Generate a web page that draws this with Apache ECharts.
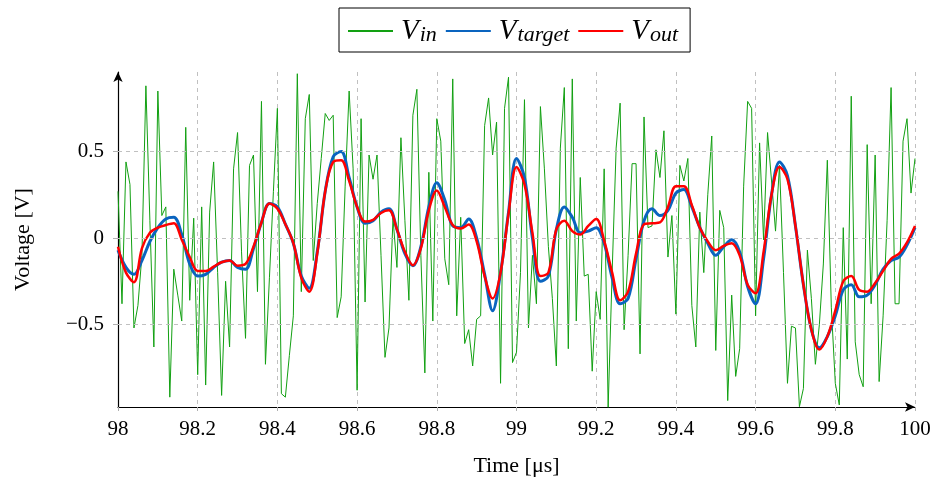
<!DOCTYPE html>
<html>
<head>
<meta charset="utf-8">
<script src="https://cdn.jsdelivr.net/npm/echarts@6/dist/echarts.min.js"></script>
<style>
html,body{margin:0;padding:0;background:#fff;}
#chart{width:939px;height:489px;}
</style>
</head>
<body>
<div id="chart"></div>
<script>
// ---- data ----
const tStart = 98;
const vinStep = 0.01;
const vin = [
 0.27,-0.38,0.44,0.31,-0.52,-0.39,-0.10,0.88,0.10,-0.63,
 0.85,0.13,0.18,-0.92,-0.18,-0.33,-0.48,0.64,-0.36,0.115,
 -0.79,0.18,-0.85,0.15,0.44,-0.20,-0.91,-0.25,-0.63,0.40,
 0.61,-0.08,-0.58,0.42,0.48,-0.31,0.79,-0.73,-0.23,0.27,
 0.75,-0.90,-0.92,-0.68,-0.45,0.95,-0.31,0.69,0.83,-0.13,
 0.20,0.46,0.72,0.68,0.71,-0.46,-0.34,0.30,0.85,0.40,
 -0.88,0.69,-0.37,0.48,0.34,0.48,-0.10,-0.69,-0.52,0.115,
 -0.17,0.58,0.10,-0.36,0.71,0.86,-0.10,-0.78,0.38,-0.48,
 0.69,0.56,-0.12,-0.27,0.92,-0.45,0.12,-0.61,-0.53,-0.74,
 -0.47,-0.45,0.65,0.81,0.48,0.67,-0.84,0.75,0.93,-0.72,
 -0.66,-0.20,0.80,-0.52,-0.10,-0.38,0.76,0.40,-0.05,-0.35,
 -0.74,0.52,0.87,-0.64,0.92,-0.48,0.35,-0.22,-0.21,-0.77,
 -0.31,-0.47,0.40,-0.98,-0.20,0.52,0.78,-0.53,-0.10,0.43,
 0.43,-0.67,0.70,0.06,0.07,0.51,0.35,0.62,-0.11,0.13,
 -0.44,0.42,0.33,0.46,-0.39,-0.63,0.15,-0.20,0.25,0.59,
 -0.65,0.16,0.06,-0.94,-0.33,-0.80,-0.64,0.30,0.79,0.75,
 -0.45,0.55,-0.01,0.61,0.33,0.04,0.42,-0.20,-0.84,-0.51,
 -0.52,-0.975,-0.87,-0.07,-0.35,-0.73,-0.50,-0.15,0.45,-0.40,
 -0.84,-0.965,0.06,-0.70,0.82,-0.60,-0.79,-0.86,0.54,-0.38,
 0.48,-0.83,-0.45,0.10,0.87,-0.38,-0.38,0.56,0.69,0.26,
 0.46
];
const smoothStep = 0.02;
const vtarget = [
 -0.07,-0.17,-0.21,-0.13,-0.02,0.06,0.11,0.12,0.02,-0.15,
 -0.22,-0.21,-0.17,-0.14,-0.13,-0.17,-0.18,-0.06,0.09,0.20,
 0.18,0.08,-0.03,-0.22,-0.29,-0.08,0.27,0.47,0.50,0.35,
 0.18,0.085,0.10,0.15,0.17,0.05,-0.09,-0.16,-0.05,0.18,
 0.32,0.22,0.07,0.06,0.11,0.00,-0.21,-0.42,-0.20,0.15,
 0.46,0.35,0.00,-0.25,-0.22,0.05,0.18,0.12,0.03,0.04,
 0.06,-0.03,-0.23,-0.38,-0.35,-0.12,0.10,0.17,0.13,0.16,
 0.26,0.28,0.18,0.06,-0.03,-0.10,-0.05,-0.01,-0.08,-0.28,
 -0.38,-0.12,0.25,0.44,0.36,0.07,-0.27,-0.53,-0.635,-0.57,
 -0.45,-0.30,-0.27,-0.34,-0.33,-0.27,-0.18,-0.13,-0.11,-0.04,
 0.06
];
const vout = [
 -0.05,-0.20,-0.255,-0.06,0.03,0.06,0.075,0.085,-0.01,-0.11,
 -0.19,-0.19,-0.165,-0.14,-0.13,-0.16,-0.15,-0.05,0.09,0.20,
 0.17,0.08,-0.03,-0.23,-0.31,-0.09,0.27,0.44,0.45,0.33,
 0.18,0.095,0.105,0.145,0.16,0.05,-0.08,-0.157,-0.06,0.16,
 0.275,0.18,0.075,0.055,0.078,-0.02,-0.22,-0.35,-0.20,0.14,
 0.41,0.31,0.03,-0.22,-0.20,0.05,0.10,0.04,0.02,0.07,
 0.11,-0.015,-0.20,-0.36,-0.31,-0.09,0.08,0.085,0.09,0.18,
 0.30,0.30,0.19,0.06,-0.02,-0.07,-0.045,-0.03,-0.10,-0.27,
 -0.32,-0.08,0.25,0.41,0.34,0.07,-0.27,-0.53,-0.645,-0.57,
 -0.42,-0.25,-0.22,-0.30,-0.31,-0.26,-0.19,-0.12,-0.09,-0.025,
 0.07
];
const xTicks = [98, 98.2, 98.4, 98.6, 98.8, 99, 99.2, 99.4, 99.6, 99.8, 100];
const yTicks = [-0.5, 0, 0.5];
const seriesNames = ['Vin', 'Vtarget', 'Vout'];
const legendParts = { Vin: ['V', 'in'], Vtarget: ['V', 'target'], Vout: ['V', 'out'] };

function pairs(vals, step) {
  return vals.map((v, i) => [+(tStart + i * step).toFixed(4), v]);
}

const serif = 'Liberation Serif';
const chart = echarts.init(document.getElementById('chart'), null, { renderer: 'canvas' });
const option = {
  animation: false,
  backgroundColor: '#fff',
  grid: { left: 118, right: 24, top: 72, bottom: 82, containLabel: false },
  legend: {
    data: seriesNames,
    left: 339, top: 8,
    orient: 'horizontal',
    borderColor: '#000', borderWidth: 1, borderRadius: 0,
    padding: [6, 12, 6, 8],
    itemWidth: 45, itemHeight: 14, itemGap: 8,
    itemStyle: { opacity: 0, borderWidth: 0 },
    formatter: n => '{v|' + legendParts[n][0] + '}{s|' + legendParts[n][1] + '}',
    textStyle: {
      color: '#000',
      rich: {
        v: { fontFamily: serif, fontStyle: 'italic', fontSize: 29, color: '#000', lineHeight: 30, padding: [0, 0, 0, 3] },
        s: { fontFamily: serif, fontStyle: 'italic', fontSize: 22, color: '#000', lineHeight: 30, verticalAlign: 'bottom', padding: [10, 0, 0, 1] }
      }
    }
  },
  xAxis: {
    type: 'value', min: 98, max: 100, interval: 0.2,
    name: 'Time [μs]', nameLocation: 'middle', nameGap: 48,
    nameTextStyle: { fontFamily: serif, fontSize: 22, color: '#000' },
    axisLine: { show: true, onZero: false, symbol: ['none', 'arrow'], symbolSize: [7, 10], lineStyle: { color: '#000', width: 1.2 } },
    axisTick: { show: true, inside: false, length: 4, lineStyle: { color: '#b0b0b0' } },
    axisLabel: {
      margin: 12, color: '#000', fontFamily: serif, fontSize: 21,
      formatter: v => { const r = Math.round(v * 10) / 10; return xTicks.includes(r) ? String(r) : ''; }
    },
    splitLine: { show: true, lineStyle: { color: '#c0c0c0', type: [4, 4], width: 1 } }
  },
  yAxis: {
    type: 'value', min: -0.977, max: 0.96,
    name: 'Voltage [V]', nameLocation: 'middle', nameGap: 84, nameRotate: 90,
    nameTextStyle: { fontFamily: serif, fontSize: 22, color: '#000' },
    axisLine: { show: true, onZero: false, symbol: ['none', 'arrow'], symbolSize: [7, 10], lineStyle: { color: '#000', width: 1.2 } },
    axisTick: { show: true, inside: false, length: 5, customValues: yTicks, lineStyle: { color: '#b0b0b0' } },
    axisLabel: {
      margin: 14, color: '#000', fontFamily: serif, fontSize: 21,
      customValues: yTicks,
      formatter: v => String(v).replace('-', '\u2212')
    },
    splitLine: { show: false }
  },
  series: [
    {
      name: 'Vin', type: 'line', data: pairs(vin, vinStep), showSymbol: false, symbol: 'none',
      lineStyle: { color: '#12a012', width: 1 }, itemStyle: { color: '#12a012' }, z: 2,
      markLine: {
        silent: true, symbol: 'none', label: { show: false }, animation: false,
        lineStyle: { color: '#c0c0c0', type: [4, 4], width: 1 },
        data: yTicks.map(v => ({ yAxis: v }))
      }
    },
    {
      name: 'Vtarget', type: 'line', data: pairs(vtarget, smoothStep), showSymbol: false, symbol: 'none',
      smooth: 0.35, lineStyle: { color: '#0a64bf', width: 3 }, itemStyle: { color: '#0a64bf' }, z: 3
    },
    {
      name: 'Vout', type: 'line', data: pairs(vout, smoothStep), showSymbol: false, symbol: 'none',
      smooth: 0.35, lineStyle: { color: '#ff0000', width: 2.5 }, itemStyle: { color: '#ff0000' }, z: 4
    }
  ]
};
chart.setOption(option);
</script>
</body>
</html>
